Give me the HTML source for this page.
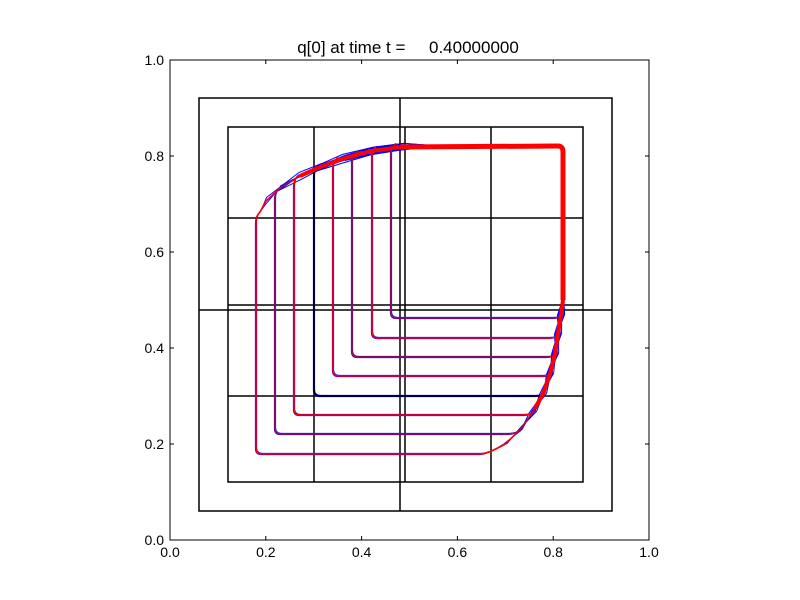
<!DOCTYPE html>
<html><head><meta charset="utf-8"><style>body{margin:0;background:#fff}svg{display:block}</style></head><body>
<svg id="s" width="800" height="600" xmlns="http://www.w3.org/2000/svg" font-family="Liberation Sans, DejaVu Sans, sans-serif">
<rect width="800" height="600" fill="#fff"/>
<g id="grid" stroke="#000" stroke-width="1.5" fill="none">
<rect x="199" y="98" width="413" height="413"/>
<rect x="228" y="127" width="355" height="355"/>
<line x1="314" y1="127" x2="314" y2="482"/>
<line x1="400" y1="98" x2="400" y2="511"/>
<line x1="405" y1="127" x2="405" y2="482"/>
<line x1="491" y1="127" x2="491" y2="482"/>
<line x1="228" y1="218" x2="583" y2="218"/>
<line x1="199" y1="310" x2="612" y2="310"/>
<line x1="228" y1="305" x2="583" y2="305"/>
<line x1="228" y1="396" x2="583" y2="396"/>
</g>
<g id="c"></g>
<rect x="170" y="60" width="479" height="480" fill="none" stroke="#000" stroke-width="1"/>
<g id="t" stroke="#000" stroke-width="1"></g>
<g font-size="14" fill="#000" id="lb"></g>
<text x="408" y="53" font-size="17" text-anchor="middle" style="white-space:pre" xml:space="preserve">q[0] at time t =     0.40000000</text>
</svg>
<script>
var NS="http://www.w3.org/2000/svg";
function el(p,n,a,txt){var e=document.createElementNS(NS,n);for(var k in a)e.setAttribute(k,a[k]);if(txt!=null)e.textContent=txt;p.appendChild(e);return e;}
var t=document.getElementById('t'),lb=document.getElementById('lb');
for(var i=0;i<=5;i++){var v=(i*0.2).toFixed(1);var x=170+i*95.8,y=540-i*96;
el(t,'line',{x1:x,y1:540,x2:x,y2:536});el(t,'line',{x1:x,y1:60,x2:x,y2:64});
el(t,'line',{x1:170,y1:y,x2:174,y2:y});el(t,'line',{x1:649,y1:y,x2:645,y2:y});
el(lb,'text',{x:x,y:557,'text-anchor':'middle'},v);el(lb,'text',{x:164,y:y+5,'text-anchor':'end'},v);}
var UL=[[256,216],[266,201],[280,188],[300,176],[320,167],[345,158],[372,151],[400,147],[430,146],[560,146]];
var LR=[[488,454],[505,444],[520,430],[533,412],[543,394],[550,374],[555,354],[558,334],[561,315],[563,300],[563,160]];
function interpX(pts,x){for(var i=0;i<pts.length-1;i++){if(x<=pts[i+1][0])return i;}return pts.length-2;}
var c=document.getElementById('c');
var lefts=[256,275,294,314,333,352,372,391],bots=[454,434,415,396,376,357,338,318];
function path(k,dx,dy,w){var xl=lefts[k],yb=bots[k];
 var i=interpX(UL,xl);var a=UL[i],b=UL[i+1];var f=(xl-a[0])/(b[0]-a[0]);var yj=a[1]+f*(b[1]-a[1]);
 var d="M"+(xl+dx)+","+(yb-6+dy)+" L"+(xl+dx)+","+(yj+6+dy)+" Q"+(xl+dx)+","+(yj+dy)+" "+(xl+4+dx)+","+(yj-4+dy);
 for(var j=i+1;j<UL.length;j++)d+=" L"+(UL[j][0]+dx+(w&&j<8?w*((j*7+k*3)%5-2):0))+","+(UL[j][1]+dy+(w&&j<8?w*((j*5+k)%5-2):0));
 d+=" Q"+(563+dx)+","+(146+dy)+" "+(563+dx)+","+(152+dy);
 var m=1;for(var j=LR.length-1;j>0;j--){if(yb<=LR[j-1][1]&&yb>=LR[j][1]){m=j;break;}}
 var p=LR[m-1],q=LR[m];var g=(yb-p[1])/(q[1]-p[1]);var xj=p[0]+g*(q[0]-p[0]);
 for(var j=LR.length-1;j>=m;j--)d+=" L"+(LR[j][0]+dx+(w&&j<9?w*((j*3+k*7)%5-2):0))+","+(LR[j][1]+dy);
 d+=" Q"+(xj+dx)+","+(yb+dy)+" "+(xj-8+dx)+","+(yb+dy);
 d+=" L"+(xl+6+dx)+","+(yb+dy)+" Q"+(xl+dx)+","+(yb+dy)+" "+(xl+dx)+","+(yb-6+dy);
 return d;}
for(var k=0;k<8;k++){
 el(c,'path',{d:path(k,0.6,-0.6,1.5),stroke:'#0000ff','stroke-width':1,fill:'none'});
 el(c,'path',{d:path(k,-0.6,0.6,-1.5),stroke:'#0000ff','stroke-width':1,fill:'none'});
}
for(var k=0;k<8;k++){
 el(c,'path',{d:path(k,0,0,0),stroke:(k==3?'#000':(k%2?'#a01040':'#ff0000')),'stroke-width':1.6,fill:'none'});
}
el(c,'path',{d:"M400,147 L558,146 Q563,146 563,152 L563,300",stroke:'#ff0000','stroke-width':5,fill:'none'});
el(c,'path',{d:"M300,176 L320,167 L345,158 L372,151 L400,147",stroke:'#ff0000','stroke-width':4,fill:'none'});
el(c,'path',{d:"M563,300 L561,315 L558,334 L555,354 L550,374 L543,394 L535,408",stroke:'#ff0000','stroke-width':4,fill:'none'});
</script>
</body></html>
